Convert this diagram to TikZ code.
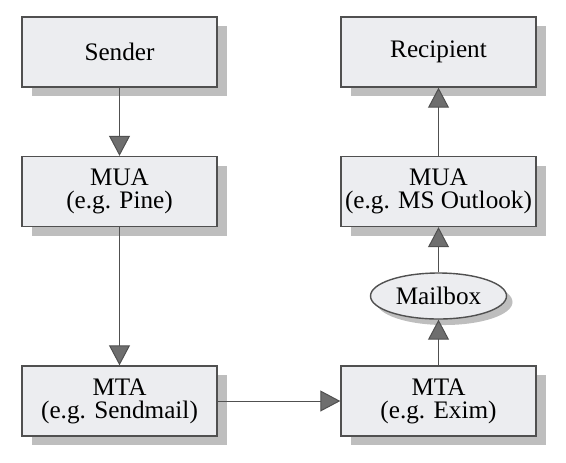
\documentclass[tikz,border=0pt]{standalone}
\usepackage{fontspec}
\setmainfont{Liberation Serif}
\usepackage{tikz}
\usetikzlibrary{shapes,arrows.meta,positioning,shadows}
\definecolor{boxgray}{RGB}{236,237,240}
\definecolor{edgegray}{RGB}{80,80,80}
\definecolor{shadegray}{RGB}{190,190,190}
\definecolor{tipgray}{RGB}{110,110,110}

\tikzset{
  agentbox/.style={draw=edgegray, line width=0.7pt, fill=boxgray,
    minimum width=97.5pt, minimum height=35pt, align=center,
    inner sep=0pt, font=\fontsize{12.6}{11.5}\selectfont,
    drop shadow={shadow xshift=5pt, shadow yshift=-4.5pt, fill=shadegray, opacity=1}},
  storebox/.style={ellipse, draw=edgegray, line width=0.7pt, fill=boxgray,
    minimum width=68pt, minimum height=23pt, inner sep=0pt,
    font=\fontsize{12.6}{11.5}\selectfont,
    drop shadow={shadow xshift=3pt, shadow yshift=-3pt, fill=shadegray, opacity=1}},
  flow/.style={draw=edgegray, line width=0.5pt,
    -{Triangle[width=10.5pt, length=10pt, fill=tipgray]}}
}

\begin{document}
\begin{tikzpicture}[x=0.5pt, y=-0.5pt]
  \useasboundingbox (0,0) rectangle (566,462);

  % sending side
  \node[agentbox] (sender) at (119.5,52) {Sender};
  \node[agentbox] (muaA) at (119.5,191.5) {MUA\\(e.g. Pine)};
  \node[agentbox] (mtaA) at (119.5,401) {MTA\\(e.g. Sendmail)};

  % receiving side
  \node[agentbox] (recipient) at (438.5,52) {Recipient};
  \node[agentbox] (muaB) at (438.5,191.5) {MUA\\(e.g. MS Outlook)};
  \node[storebox] (mailbox) at (438.5,296) {Mailbox};
  \node[agentbox] (mtaB) at (438.5,401) {MTA\\(e.g. Exim)};

  \draw[flow] (sender) -- (muaA);
  \draw[flow] (muaA) -- (mtaA);
  \draw[flow] (mtaA) -- (mtaB);
  \draw[flow] (mtaB) -- (mailbox);
  \draw[flow] (mailbox) -- (muaB);
  \draw[flow] (muaB) -- (recipient);
\end{tikzpicture}
\end{document}
